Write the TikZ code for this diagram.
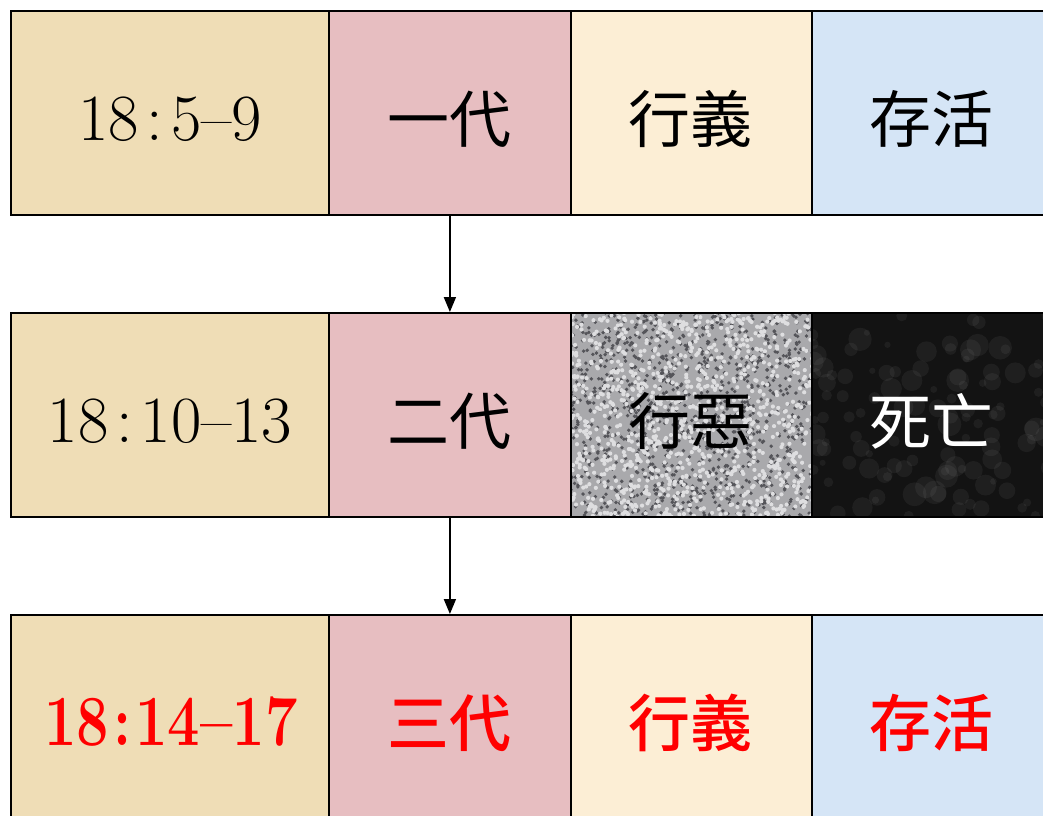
\documentclass[tikz,border=0pt]{standalone}
\usepackage{fontspec}
\newfontfamily\cjk{Noto Sans CJK TC}
\newfontfamily\cjkm{Noto Sans CJK TC Medium}
\usetikzlibrary{arrows.meta}
\definecolor{parch}{HTML}{EFDDB6}
\definecolor{pinkc}{HTML}{E7BEC1}
\definecolor{creamc}{HTML}{FCEED5}
\definecolor{bluec}{HTML}{D5E5F6}
\definecolor{granite}{HTML}{A9A9AC}
\definecolor{granD}{HTML}{55555A}
\definecolor{granL}{HTML}{DEDEE0}
\definecolor{marble}{HTML}{131313}
\definecolor{redt}{HTML}{FF0000}
\tikzset{
  cell/.style={draw=black, line width=1.8pt, anchor=north west, minimum height=204pt, inner sep=0pt},
  wcol/.style={minimum width=318pt},
  ncol/.style={minimum width=242pt},
  refc/.style={cell, wcol, fill=parch},
  genc/.style={cell, ncol, fill=pinkc},
  goodc/.style={cell, ncol, fill=creamc},
  livec/.style={cell, ncol, fill=bluec},
  badc/.style={cell, ncol, fill=granite,
    path picture={
      \pgfmathsetseed{7}
      \foreach \k in {1,...,1100}{
        \pgfmathsetmacro\px{rnd*245}\pgfmathsetmacro\py{rnd*208}
        \fill[granD] ([shift={(\px pt,\py pt)}]path picture bounding box.south west) circle (1.9pt);}
      \foreach \k in {1,...,1100}{
        \pgfmathsetmacro\px{rnd*245}\pgfmathsetmacro\py{rnd*208}
        \fill[granL] ([shift={(\px pt,\py pt)}]path picture bounding box.south west) circle (2.1pt);}
    }},
  deathc/.style={cell, ncol, fill=marble,
    path picture={
      \pgfmathsetseed{11}
      \foreach \k in {1,...,120}{
        \pgfmathsetmacro\px{rnd*245}\pgfmathsetmacro\py{rnd*208}\pgfmathsetmacro\pr{3+rnd*9}
        \fill[white, opacity=0.05] ([shift={(\px pt,\py pt)}]path picture bounding box.south west) circle (\pr pt);}
    }},
  reft/.style={font=\fontsize{66}{66}\selectfont},
  cjkt/.style={font=\cjk\fontsize{62}{62}\selectfont},
  hlref/.style={font=\bfseries\fontsize{72}{72}\selectfont, text=redt},
  hlcjk/.style={font=\cjkm\fontsize{62}{62}\selectfont, text=redt},
  flow/.style={draw=black, line width=1.8pt, -{Triangle[width=12pt,length=15pt]}}
}
\begin{document}
\begin{tikzpicture}[x=1pt, y=-1pt]
\useasboundingbox (0,0) rectangle (1043,815);
\clip (0,0) rectangle (1043,815);
% row 1
\node[refc]  (r1) at (10,10)  {};
\node[genc]  (g1) at (328,10) {};
\node[goodc] (d1) at (570,10) {};
\node[livec] (o1) at (811,10) {};
% row 2
\node[refc]   (r2) at (10,312)  {};
\node[genc]   (g2) at (328,312) {};
\node[badc]   (d2) at (570,312) {};
\node[deathc] (o2) at (811,312) {};
% row 3
\node[refc, minimum height=210pt]  (r3) at (10,614)  {};
\node[genc, minimum height=210pt]  (g3) at (328,614) {};
\node[goodc, minimum height=210pt] (d3) at (570,614) {};
\node[livec, minimum height=210pt] (o3) at (811,614) {};
% labels
\node[reft] (t1) at (170,119) {18\hspace{8pt}:\hspace{8pt}5–9};
\node[cjkt] (u1) at (449,119) {一代};
\node[cjkt] (v1) at (690,119) {行義};
\node[cjkt] (w1) at (931,119) {存活};
\node[reft] (t2) at (170,421) {18\hspace{8pt}:\hspace{8pt}10–13};
\node[cjkt] (u2) at (449,421) {二代};
\node[cjkt] (v2) at (690,421) {行惡};
\node[cjkt, text=white] (w2) at (931,421) {死亡};
\node[hlref] (t3) at (171,722) {\scalebox{0.8}[1]{18\hspace{5pt}:\hspace{5pt}14–17}};
\node[hlcjk] (u3) at (449,723) {三代};
\node[hlcjk] (v3) at (690,723) {行義};
\node[hlcjk] (w3) at (931,723) {存活};
% connectors
\draw[flow] (g1.south) -- (g2.north);
\draw[flow] (g2.south) -- (g3.north);
\end{tikzpicture}
\end{document}
